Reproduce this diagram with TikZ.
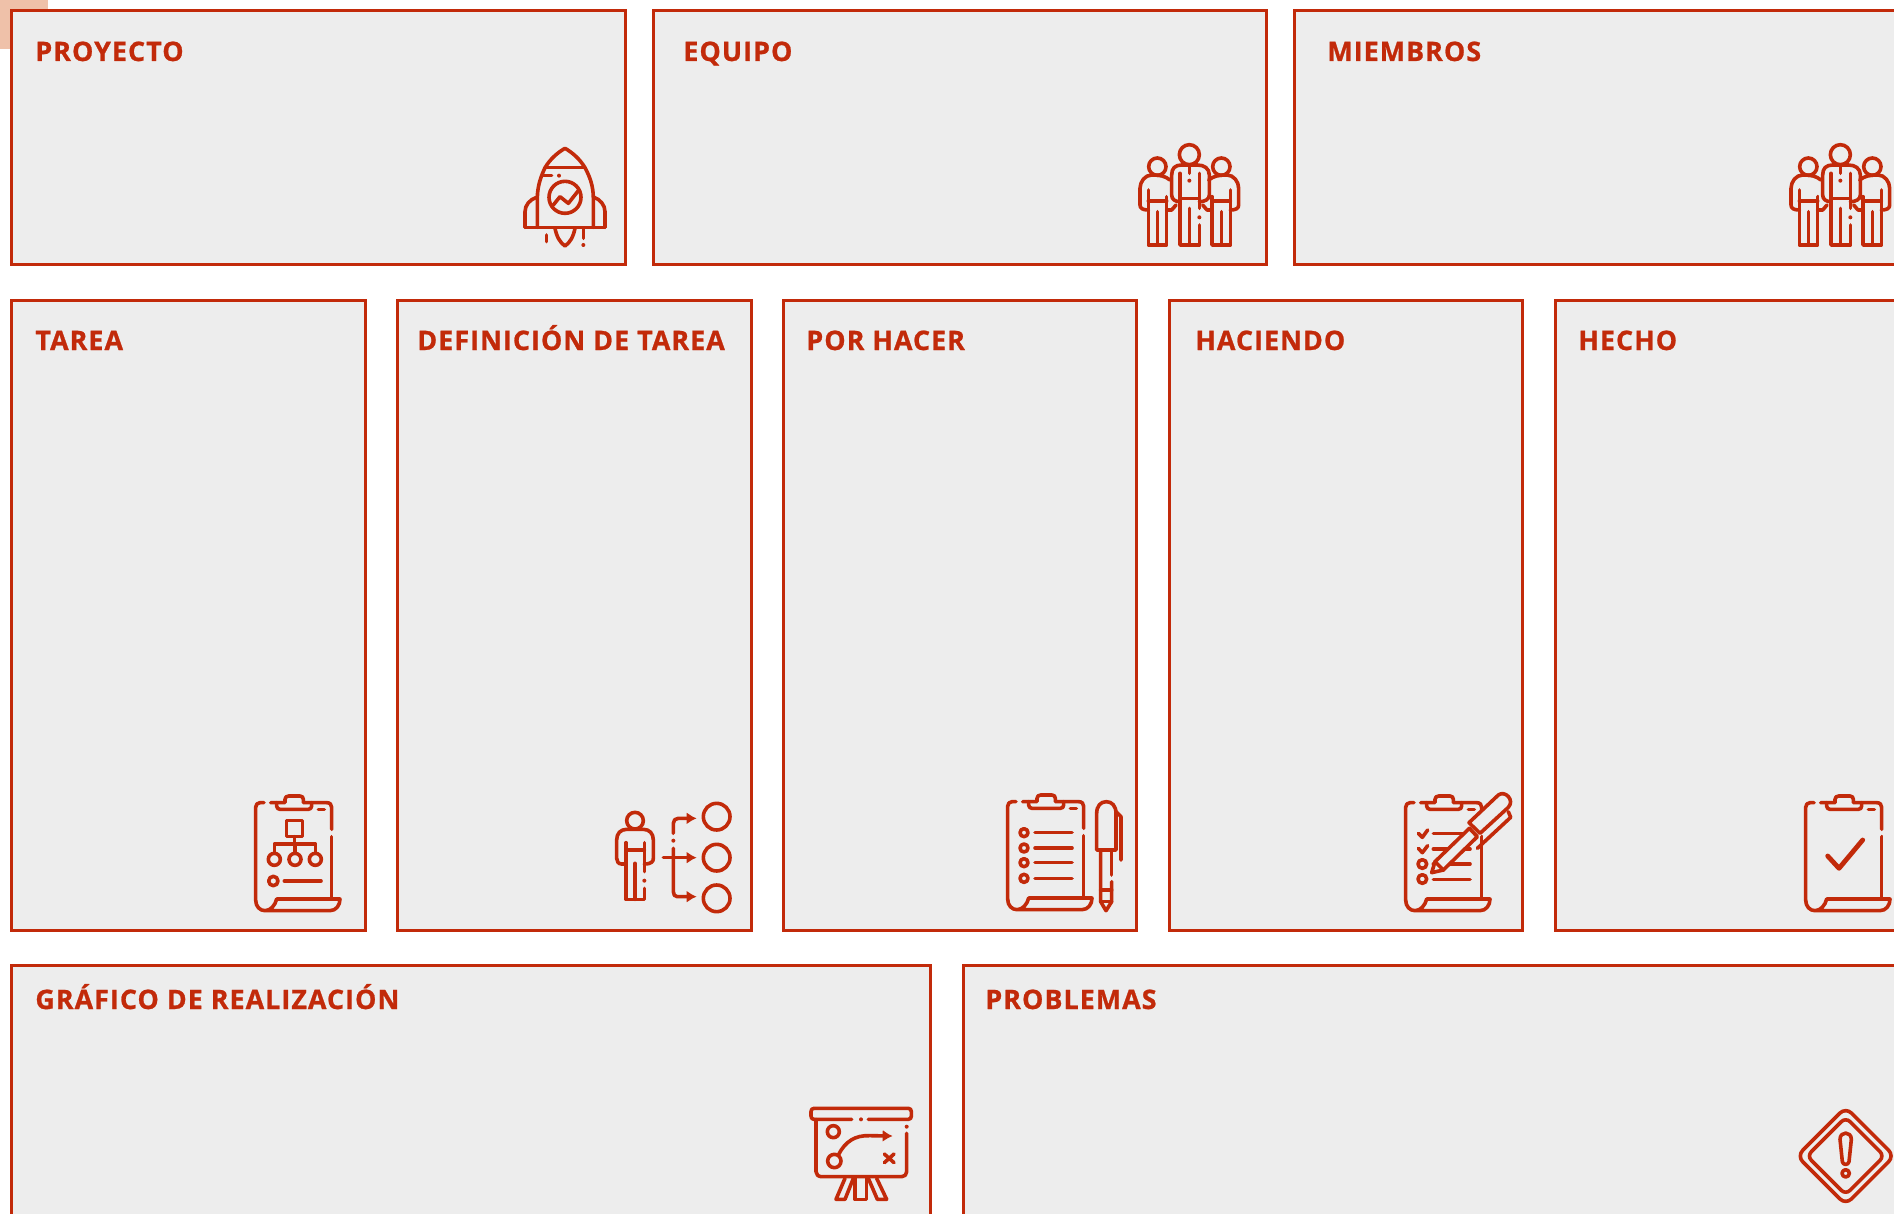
\documentclass[tikz,border=0pt]{standalone}
\usepackage{fontspec}
\setmainfont{Open Sans}
\newfontfamily\titlefont[FakeBold=0.9,LetterSpace=4]{Open Sans Bold}
\usetikzlibrary{arrows.meta}
\definecolor{brick}{HTML}{C22A0A}
\definecolor{panelgray}{HTML}{EDEDED}
\definecolor{peach}{HTML}{EFC1A9}
\tikzset{
    panel/.style={draw=brick,fill=panelgray,line width=1.5pt},
    paneltitle/.style={anchor=base west,inner sep=0pt,text=brick,font=\fontsize{13.4}{15}\selectfont\titlefont},
    icon/.style={draw=brick,line width=1.8pt,line cap=round,line join=round},
    dotmark/.style={fill=brick,draw=none}
}
% clipboard outline, drawn in 3x units
\newcommand{\clipicon}[2]{
    \begin{scope}[shift={(#1,#2)},scale=1/3]
        \draw[icon] (72,68) -- (60,68) .. controls (52,68) and (47,74) .. (47,82) -- (47,360)
            .. controls (47,380) and (60,392) .. (75,392) -- (270,392)
            .. controls (288,392) and (300,376) .. (300,357) -- (110,357)
            .. controls (106,375) and (92,392) .. (75,392);
        \draw[icon] (92,68) -- (135,68) -- (135,58) .. controls (135,52) and (140,48) .. (146,48) -- (180,48)
            .. controls (186,48) and (190,52) .. (190,58) -- (190,68) -- (260,68)
            .. controls (270,68) and (275,74) .. (275,82) -- (275,148);
        \draw[icon] (275,170) -- (275,357);
        \draw[icon] (110,68) -- (110,78) .. controls (110,84) and (114,88) .. (120,88) -- (205,88)
            .. controls (211,88) and (215,84) .. (215,78) -- (215,68);
        \draw[icon] (235,88) -- (253,88);
    \end{scope}
}
% three people
\newcommand{\teamicon}[2]{
    \begin{scope}[shift={(#1,#2)},scale=1/3]
        % middle one
        \draw[icon] (208,74) circle (30);
        \draw[icon] (180,215) .. controls (165,215) and (155,208) .. (155,195) -- (155,135)
            .. controls (155,115) and (165,105) .. (185,105) -- (232,105)
            .. controls (252,105) and (268,115) .. (268,135) -- (268,195)
            .. controls (268,208) and (255,215) .. (238,215);
        \draw[icon] (180,130) -- (180,345) -- (238,345) -- (238,285);
        \draw[icon] (238,130) -- (238,235);
        \draw[icon] (180,205) -- (238,205);
        \draw[icon] (208,235) -- (208,345);
        \draw[icon] (208,110) -- (208,130);
        \fill[dotmark] (208,152) circle (6);
        \fill[dotmark] (238,262) circle (6);
        % left one
        \draw[icon] (112,110) circle (26);
        \draw[icon] (150,150) .. controls (135,138) and (120,135) .. (95,135)
            .. controls (75,135) and (60,155) .. (60,175) -- (60,225)
            .. controls (60,235) and (68,240) .. (85,240);
        \draw[icon] (85,180) -- (85,345) -- (140,345) -- (140,200);
        \draw[icon] (85,213) -- (140,213);
        \draw[icon] (112,245) -- (112,345);
        \draw[icon] (140,240) -- (155,240) -- (168,225);
        % right one
        \draw[icon] (304,110) circle (26);
        \draw[icon] (266,150) .. controls (281,138) and (296,135) .. (321,135)
            .. controls (341,135) and (356,155) .. (356,175) -- (356,225)
            .. controls (356,235) and (348,240) .. (331,240);
        \draw[icon] (331,180) -- (331,345) -- (276,345) -- (276,200);
        \draw[icon] (276,213) -- (331,213);
        \draw[icon] (304,245) -- (304,345);
        \draw[icon] (276,240) -- (261,240) -- (248,225);
    \end{scope}
}
\begin{document}
\begin{tikzpicture}[x=0.5pt,y=-0.5pt]
    \clip (0,0) rectangle (1894,1214);
    \fill[white] (0,0) rectangle (1894,1214);
    \fill[peach] (0,0) rectangle (48,49);

    % top row
    \draw[panel] (11,11) rectangle (625,265);
    \draw[panel] (653,11) rectangle (1266,265);
    \draw[panel] (1294,11) rectangle (1920,265);
    % middle row
    \draw[panel] (11,300) rectangle (365,930);
    \draw[panel] (397,300) rectangle (751,930);
    \draw[panel] (783,300) rectangle (1136,930);
    \draw[panel] (1169,300) rectangle (1522,930);
    \draw[panel] (1555,300) rectangle (1920,930);
    % bottom row
    \draw[panel] (11,965) rectangle (930,1240);
    \draw[panel] (963,965) rectangle (1920,1240);

    \node[paneltitle] (proyecto) at (35,61) {PROYECTO};
    \node[paneltitle] (equipo) at (683,61) {EQUIPO};
    \node[paneltitle] (miembros) at (1327,61) {MIEMBROS};
    \node[paneltitle] (tarea) at (35,350) {TAREA};
    \node[paneltitle] (definicion) at (417,350) {DEFINICIÓN DE TAREA};
    \node[paneltitle] (porhacer) at (806,350) {POR HACER};
    \node[paneltitle] (haciendo) at (1195,350) {HACIENDO};
    \node[paneltitle] (hecho) at (1578,350) {HECHO};
    \node[paneltitle] (grafico) at (35,1009) {GRÁFICO DE REALIZACIÓN};
    \node[paneltitle] (problemas) at (985,1009) {PROBLEMAS};

    % rocket
    \begin{scope}[shift={(500,120)},scale=1/3]
        \draw[icon] (112,322) -- (112,235) .. controls (112,195) and (125,165) .. (135,143)
            .. controls (150,118) and (172,98) .. (195,85)
            .. controls (218,98) and (240,118) .. (255,143)
            .. controls (268,168) and (280,195) .. (280,235) -- (280,322);
        \draw[icon] (135,143) -- (255,143);
        \draw[icon] (75,322) -- (315,322);
        \draw[icon] (75,322) -- (75,275) .. controls (75,255) and (90,238) .. (110,232);
        \draw[icon] (315,322) -- (315,275) .. controls (315,255) and (300,238) .. (282,232);
        \draw[icon] (195,232) circle (48);
        \draw[icon] (160,255) -- (180,230) -- (205,250) -- (235,212);
        \draw[icon] (165,325) .. controls (170,350) and (180,368) .. (195,378)
            .. controls (210,368) and (220,350) .. (225,325);
        \draw[icon] (130,167) -- (155,167);
        \fill[dotmark] (177,167) circle (6);
        \draw[icon] (140,345) -- (140,365);
        \draw[icon] (250,325) -- (250,355);
        \fill[dotmark] (250,375) circle (6);
    \end{scope}

    \teamicon{1120}{130}
    \teamicon{1771}{130}

    % org chart clipboard
    \clipicon{240}{780}
    \begin{scope}[shift={(240,780)},scale=1/3]
        \draw[icon] (140,122) rectangle (187,170);
        \draw[icon] (163,170) -- (163,192);
        \draw[icon] (103,220) -- (103,192) -- (226,192) -- (226,220);
        \draw[icon] (165,192) -- (165,220);
        \draw[icon] (103,238) circle (18);
        \draw[icon] (165,238) circle (18);
        \draw[icon] (226,238) circle (18);
        \draw[icon] (100,303) circle (14);
        \draw[icon] (133,303) -- (243,303);
    \end{scope}

    % person and branches
    \begin{scope}[shift={(600,790)},scale=1/3]
        \draw[icon] (105,92) circle (25);
        \draw[icon] (78,222) -- (65,222) .. controls (55,222) and (50,214) .. (50,205) -- (50,150)
            .. controls (50,130) and (62,118) .. (80,118) -- (130,118)
            .. controls (148,118) and (160,130) .. (160,150) -- (160,205)
            .. controls (160,214) and (155,222) .. (133,222);
        \draw[icon] (78,158) -- (78,328) -- (133,328) -- (133,295);
        \draw[icon] (133,158) -- (133,245);
        \draw[icon] (78,180) -- (133,180);
        \draw[icon] (105,220) -- (105,328);
        \fill[dotmark] (133,272) circle (6);
        \draw[icon,-{Latex[length=5pt,width=6pt]}] (190,203) -- (290,203);
        \draw[icon,-{Latex[length=5pt,width=6pt]}] (220,175) -- (220,305)
            .. controls (220,314) and (224,320) .. (232,320) -- (290,320);
        \draw[icon,-{Latex[length=5pt,width=6pt]}] (220,130) -- (220,100)
            .. controls (220,91) and (226,85) .. (235,85) -- (290,85);
        \fill[dotmark] (220,152) circle (6);
        \draw[icon] (350,80) circle (40);
        \draw[icon] (350,203) circle (40);
        \draw[icon] (350,325) circle (40);
    \end{scope}

    % list clipboard and pen
    \clipicon{992}{779}
    \begin{scope}[shift={(990,780)},scale=1/3]
        \foreach \rowy in {158,204,248,295} {
            \draw[icon] (102,\rowy) circle (12);
            \draw[icon] (135,\rowy) -- (246,\rowy);
        }
        \draw[icon] (320,210) -- (320,100) .. controls (320,78) and (332,65) .. (349,65)
            .. controls (366,65) and (378,78) .. (378,100) -- (378,210) -- cycle;
        \draw[icon] (378,95) -- (393,110) -- (393,240);
        \draw[icon] (332,210) -- (332,365) -- (348,392) -- (365,365) -- (365,305);
        \draw[icon] (365,210) -- (365,285);
        \draw[icon] (332,330) -- (365,330);
        \draw[icon] (332,365) -- (365,365);
    \end{scope}

    % checked clipboard and pen
    \clipicon{1390}{780}
    \begin{scope}[shift={(1390,780)},scale=1/3]
        \draw[icon] (85,160) -- (97,172) -- (113,150);
        \draw[icon] (85,205) -- (97,218) -- (113,197);
        \draw[icon] (97,252) circle (13);
        \draw[icon] (97,297) circle (13);
        \draw[icon] (130,160) -- (240,160);
        \draw[icon] (130,207) -- (240,207);
        \draw[icon] (130,252) -- (240,252);
        \draw[icon] (130,298) -- (240,298);
        \draw[icon,fill=panelgray] (238,145) -- (135,245) -- (125,278) -- (160,270) -- (262,170) -- cycle;
        \draw[icon] (135,245) -- (160,270);
        \draw[icon] (355,95) -- (362,112) -- (262,205);
        \draw[icon,fill=panelgray] (237,128) -- (325,45) .. controls (345,30) and (375,60) .. (355,82)
            -- (270,160) -- cycle;
    \end{scope}

    % done clipboard
    \clipicon{1790}{780}
    \begin{scope}[shift={(1790,780)},scale=1/3]
        \draw[icon,line width=2.4pt] (113,228) -- (147,265) -- (218,180);
    \end{scope}

    % chart board
    \begin{scope}[shift={(790,1090)},scale=1/3]
        \draw[icon] (185,88) -- (72,88) .. controls (66,88) and (63,84) .. (63,78) -- (63,65)
            .. controls (63,59) and (66,55) .. (72,55) -- (355,55)
            .. controls (361,55) and (364,59) .. (364,65) -- (364,78)
            .. controls (364,84) and (361,88) .. (355,88) -- (235,88);
        \fill[dotmark] (213,88) circle (6);
        \draw[icon] (78,88) -- (78,245) .. controls (78,254) and (85,260) .. (95,260) -- (335,260)
            .. controls (344,260) and (350,254) .. (350,245) -- (350,130);
        \fill[dotmark] (350,110) circle (6);
        \draw[icon] (130,125) circle (18);
        \draw[icon] (133,213) circle (20);
        \draw[icon,-{Latex[length=5pt,width=6pt]}] (145,195) .. controls (165,155) and (195,135) .. (240,137) -- (308,138);
        \draw[icon] (283,192) -- (312,218);
        \draw[icon] (283,218) -- (312,192);
        \draw[icon] (165,265) -- (138,328) -- (165,328) -- (190,265);
        \draw[icon] (195,265) -- (195,328) -- (230,328) -- (230,265);
        \draw[icon] (235,265) -- (262,328) -- (290,328) -- (260,265);
    \end{scope}

    % warning sign
    \begin{scope}[shift={(1780,1090)},scale=1/3]
        \draw[icon,rounded corners=4pt] (197,52) -- (343,198) -- (197,344) -- (51,198) -- cycle;
        \draw[icon,rounded corners=3pt] (197,82) -- (313,198) -- (197,314) -- (81,198) -- cycle;
        \draw[icon] (180,148) .. controls (180,123) and (214,123) .. (214,148)
            -- (207,215) .. controls (205,226) and (189,226) .. (187,215) -- cycle;
        \draw[icon] (197,250) circle (11);
    \end{scope}
\end{tikzpicture}
\end{document}
